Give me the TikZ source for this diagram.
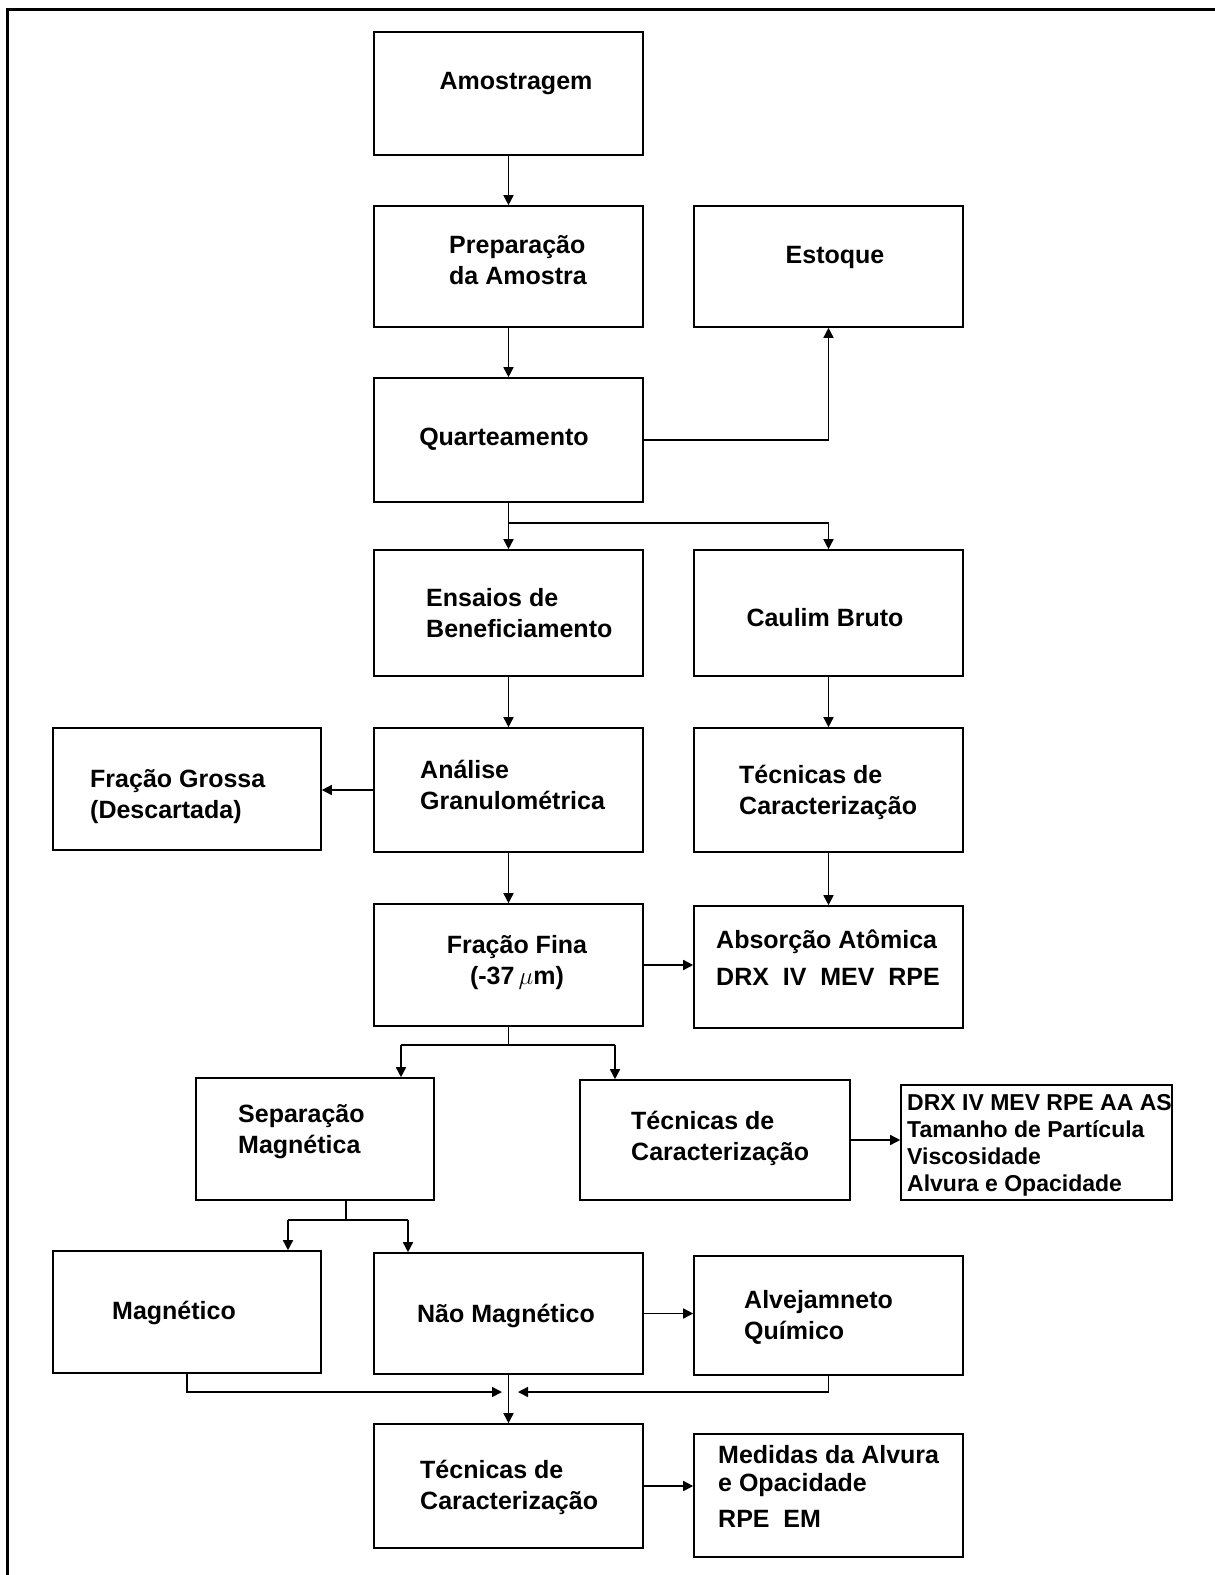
\documentclass[tikz,border=0pt]{standalone}
\usepackage{fontspec}
\setmainfont{Liberation Sans}
\usetikzlibrary{arrows.meta,calc}
\newcommand\mkbox[5]{\node[box,minimum width={#4-#2},minimum height={#5-#3}] (#1) at ({(#2+#4)/2},{(#3+#5)/2}) {};}
\begin{document}
\begin{tikzpicture}[x=1pt,y=-1pt,
  box/.style={draw,line width=1.6pt,inner sep=0pt,rectangle},
  txt/.style={font=\bfseries\fontsize{25}{31}\selectfont,inner sep=0pt,align=left,anchor=base west},
  ctxt/.style={font=\bfseries\fontsize{25}{31}\selectfont,inner sep=0pt,align=center,anchor=base},
  stxt/.style={font=\bfseries\fontsize{23}{27}\selectfont,inner sep=0pt,align=left,anchor=base west},
  arr/.style={line width=1.5pt,-{Triangle[length=10pt,width=10pt]}},
  ln/.style={line width=1.5pt}]
\useasboundingbox (0,0) rectangle (1215,1575);
\draw[line width=3pt] (7,1575) -- (7,9) -- (1215,9);
% boxes
\mkbox{amo}{374}{32}{643}{155}
\mkbox{prep}{374}{206}{643}{327}
\mkbox{est}{694}{206}{963}{327}
\mkbox{quart}{374}{378}{643}{502}
\mkbox{ens}{374}{550}{643}{676}
\mkbox{caul}{694}{550}{963}{676}
\mkbox{anal}{374}{728}{643}{852}
\mkbox{tecA}{694}{728}{963}{852}
\mkbox{gros}{53}{728}{321}{850}
\mkbox{fina}{374}{904}{643}{1026}
\mkbox{abs}{694}{906}{963}{1028}
\mkbox{sep}{196}{1078}{434}{1200}
\mkbox{tecB}{580}{1080}{850}{1200}
\mkbox{drx}{901}{1085}{1172}{1200}
\mkbox{mag}{53}{1251}{321}{1373}
\mkbox{nmag}{374}{1253}{643}{1374}
\mkbox{alv}{694}{1256}{963}{1375}
\mkbox{tecC}{374}{1424}{643}{1548}
\mkbox{med}{694}{1434}{963}{1557}
% texts (multi-line nodes: base = baseline of last line)
\node[ctxt] (amo-t) at (516,89) {Amostragem};
\node[txt] (prep-t) at (449,284) {Preparação\\da Amostra};
\node[ctxt] (est-t) at (835,263) {Estoque};
\node[ctxt] (quart-t) at (504,445) {Quarteamento};
\node[txt] (ens-t) at (426,637) {Ensaios de\\Beneficiamento};
\node[ctxt] (caul-t) at (825,626) {Caulim Bruto};
\node[txt] (anal-t) at (420,809) {Análise\\Granulométrica};
\node[txt] (tecA-t) at (739,814) {Técnicas de\\Caracterização};
\node[txt] (gros-t) at (90,818) {Fração Grossa\\(Descartada)};
\node[ctxt] (fina-t) at (517,984) {Fração Fina\\(-37\,$\mu$m)};
\node[txt] (abs-t) at (716,985) {Absorção Atômica\\[6pt]DRX\ \ IV\ \ MEV\ \ RPE};
\node[txt] (sep-t) at (238,1153) {Separação\\Magnética};
\node[txt] (tecB-t) at (631,1160) {Técnicas de\\Caracterização};
\node[stxt] (drx-t) at (907,1191) {DRX IV MEV RPE AA AS\\Tamanho de Partícula\\Viscosidade\\Alvura e Opacidade};
\node[ctxt] (mag-t) at (174,1319) {Magnético};
\node[ctxt] (nmag-t) at (506,1322) {Não Magnético};
\node[txt] (alv-t) at (744,1339) {Alvejamneto\\Químico};
\node[txt] (tecC-t) at (420,1509) {Técnicas de\\Caracterização};
\node[txt] (med-t) at (718,1527) {Medidas da Alvura\\[-3pt]e Opacidade\\[5pt]RPE\ \ EM};
% junction coordinates
\coordinate (j1) at ($(quart.south)+(0,20)$);
\coordinate (j2) at ($(fina.south)+(0,19)$);
\coordinate (j2l) at (401,{1026+19});
\coordinate (j2r) at (615,{1026+19});
\coordinate (s1) at (346,1200);
\coordinate (j3) at (346,1220);
\coordinate (j3l) at (288,1220);
\coordinate (j3r) at (408,1220);
\coordinate (mL) at (502,1392);
\coordinate (mR) at (518,1392);
% connectors
\draw[arr] (amo) -- (prep);
\draw[arr] (prep) -- (quart);
\draw[arr] (quart.east) -| (est.south);
\draw[arr] (quart) -- (ens);
\draw[arr] (j1) -| (caul.north);
\draw[arr] (ens) -- (anal);
\draw[arr] (caul) -- (tecA);
\draw[arr] (anal.west) -- (anal.west -| gros.east);
\draw[arr] (anal) -- (fina);
\draw[arr] (tecA) -- (abs);
\draw[arr] (fina.east) -- (fina.east -| abs.west);
\draw[ln] (fina.south) -- (j2);
\draw[ln] (j2l) -- (j2r);
\draw[arr] (j2l) -- (j2l |- sep.north);
\draw[arr] (j2r) -- (j2r |- tecB.north);
\draw[arr] (tecB.east) -- (tecB.east -| drx.west);
\draw[ln] (s1) -- (j3);
\draw[ln] (j3l) -- (j3r);
\draw[arr] (j3l) -- (j3l |- mag.north);
\draw[arr] (j3r) -- (j3r |- nmag.north);
\draw[arr] (nmag.east) -- (nmag.east -| alv.west);
\draw[arr] (nmag) -- (tecC);
\draw[arr] (mag.south) |- (mL);
\draw[arr] (alv.south) |- (mR);
\draw[arr] (tecC.east) -- (tecC.east -| med.west);
\end{tikzpicture}
\end{document}
